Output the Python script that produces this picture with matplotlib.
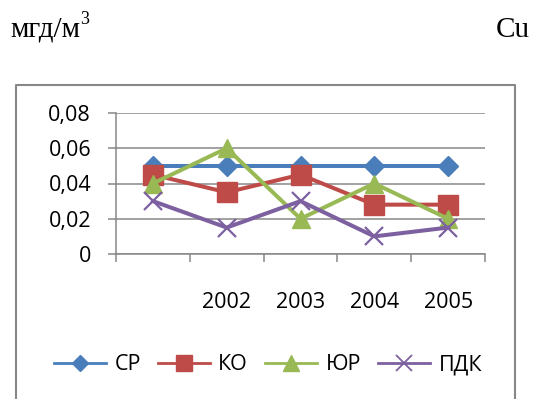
import matplotlib.pyplot as plt
from matplotlib.lines import Line2D
from matplotlib.ticker import FixedLocator

# data
years = ['', '2002', '2003', '2004', '2005']
cp = [0.05, 0.05, 0.05, 0.05, 0.05]
ko = [0.045, 0.035, 0.045, 0.028, 0.028]
yur = [0.04, 0.06, 0.02, 0.04, 0.02]
pdk = [0.03, 0.015, 0.03, 0.01, 0.015]
names = ['СР', 'КО', 'ЮР', 'ПДК']
yticks = [0, 0.02, 0.04, 0.06, 0.08]
ylabels = ['0', '0,02', '0,04', '0,06', '0,08']

colors = ['#4A7EBB', '#BE4B48', '#98B954', '#7D60A0']
markers = ['D', 's', '^', 'x']
msizes = [10, 14, 13, 13]
leg_msizes = [8.5, 12, 11, 11]

W, H = 533, 399
grey = '#878787'
sans = ['Open Sans', 'DejaVu Sans']
serif = ['Liberation Serif', 'DejaVu Serif']

fig = plt.figure(figsize=(W / 100, H / 100), dpi=100)
ax = fig.add_axes([116 / W, 1 - 254 / H, (485 - 116) / W, (254 - 113) / H])

x = list(range(len(years)))
for vals, c, m, ms in zip([cp, ko, yur, pdk], colors, markers, msizes):
    ax.plot(x, vals, color=c, lw=2.9, marker=m, ms=ms,
            mfc=c, mec=c, mew=1.6 if m == 'x' else 1, clip_on=False)

ax.set_xlim(-0.5, len(years) - 0.5)
ax.set_ylim(0, 0.08)
ax.set_yticks(yticks)
ax.set_yticklabels(ylabels, fontsize=15.5, family=sans)
ax.tick_params(axis='y', length=6, width=1.1, color=grey, pad=12)

ax.xaxis.set_major_locator(FixedLocator([i - 0.5 for i in range(len(years) + 1)]))
ax.xaxis.set_minor_locator(FixedLocator(x))
ax.set_xticklabels([], minor=False)
ax.set_xticklabels(years, minor=True, fontsize=15.5, family=sans)
ax.tick_params(axis='x', which='major', length=6, width=1.1, color=grey)
ax.tick_params(axis='x', which='minor', length=0, pad=27)

ax.grid(axis='y', color=grey, lw=1.1)
ax.set_axisbelow(True)
for s in ['top', 'right']:
    ax.spines[s].set_visible(False)
for s in ['left', 'bottom']:
    ax.spines[s].set_color(grey)
    ax.spines[s].set_linewidth(1.1)

handles = [Line2D([], [], color=c, lw=2, marker=m, ms=ms, mfc=c, mec=c,
                  mew=1.3 if m == 'x' else 1)
           for c, m, ms in zip(colors, markers, leg_msizes)]
fig.legend(handles, names, loc='center', bbox_to_anchor=(268 / W, 1 - 365 / H),
           ncol=4, frameon=False, handlelength=2.4, handletextpad=0.4,
           columnspacing=0.8, prop={'family': sans, 'size': 15.5})

# chart frame (bottom edge is cut off)
fx0, fx1, fy = 16 / W, 515 / W, 1 - 85 / H
fig.add_artist(Line2D([fx0, fx0, fx1, fx1], [0, fy, fy, 0],
                      transform=fig.transFigure, color=grey, lw=1.5))

fig.text(10 / W, 1 - 37 / H, 'мгд/м', family=serif, fontsize=21, va='baseline')
fig.text(80 / W, 1 - 24 / H, '3', family=serif, fontsize=13, va='baseline')
fig.text(496 / W, 1 - 37 / H, 'Cu', family=serif, fontsize=21, va='baseline')

fig.savefig('out.png', dpi=100)
